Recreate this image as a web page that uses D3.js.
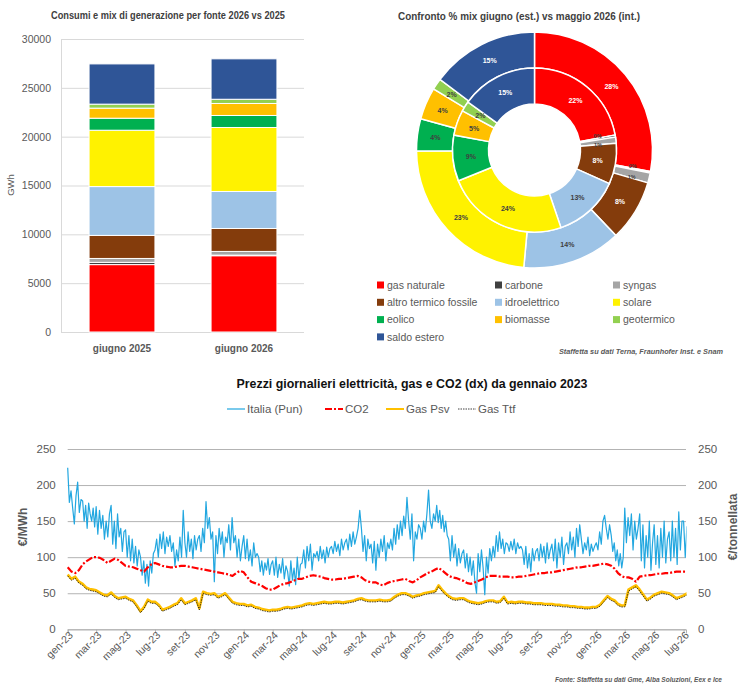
<!DOCTYPE html>
<html>
<head>
<meta charset="utf-8">
<script src="https://cdn.jsdelivr.net/npm/d3@7"></script>
<style>
body { margin: 0; background: #fff; }
svg { display: block; font-family: 'Liberation Sans', Arial, sans-serif; }
</style>
</head>
<body>
<div id="chart"></div>
<script>
// ---- data: generation mix ----
const sources = ['gas naturale', 'carbone', 'syngas', 'altro termico fossile', 'idroelettrico',
    'solare', 'eolico', 'biomasse', 'geotermico', 'saldo estero'];
const source_colors = ['#ff0000', '#404040', '#a5a5a5', '#843c0c', '#9dc3e6',
    '#fff200', '#00b050', '#ffc000', '#92d050', '#2f5597'];
const bar_months = ['giugno 2025', 'giugno 2026'];
const gwh_giugno_2025 = [6900, 230, 400, 2360, 5000, 5770, 1230, 1030, 410, 4120];
const gwh_giugno_2026 = [7810, 60, 380, 2350, 3790, 6550, 1230, 1230, 430, 4140];
const pct_maggio_2026 = [22, 0.4, 1.2, 8, 13, 24, 9, 5, 2, 15];
const gwh_ticks = [0, 5000, 10000, 15000, 20000, 25000, 30000];

// ---- data: daily prices (values per month, from gen-23) ----
const month_abbr = ['gen', 'feb', 'mar', 'apr', 'mag', 'giu', 'lug', 'ago', 'set', 'ott', 'nov', 'dic'];
const price_ticks = [0, 50, 100, 150, 200, 250];

const pun = [
    [224, 176, 192, 168, 146, 185, 204, 162, 180],
    [178, 150, 172, 140, 175, 160, 150, 168, 142],
    [170, 132, 165, 140, 158, 125, 150, 128, 160],
    [172, 118, 150, 112, 160, 128, 140, 108, 135],
    [138, 100, 130, 95, 125, 92, 115, 88, 110],
    [100, 75, 95, 64, 90, 60, 95, 78, 105],
    [110, 125, 100, 132, 112, 135, 105, 128, 115],
    [130, 108, 120, 88, 110, 95, 128, 100, 165],
    [120, 100, 135, 108, 125, 98, 130, 110, 125],
    [130, 108, 140, 120, 177, 140, 155, 125, 135],
    [66, 130, 105, 140, 118, 135, 100, 128, 120],
    [145, 110, 155, 120, 130, 100, 125, 95, 115],
    [130, 98, 125, 95, 110, 88, 120, 100, 105],
    [100, 80, 95, 75, 92, 82, 98, 76, 90],
    [95, 75, 100, 72, 90, 78, 98, 70, 88],
    [80, 60, 95, 68, 85, 62, 100, 70, 90],
    [92, 110, 85, 115, 95, 118, 82, 105, 100],
    [108, 95, 115, 98, 110, 92, 114, 100, 112],
    [115, 105, 122, 108, 118, 102, 125, 110, 120],
    [125, 110, 132, 115, 135, 118, 128, 140, 165],
    [140, 108, 130, 95, 125, 112, 118, 92, 122],
    [82, 118, 100, 125, 108, 130, 95, 120, 112],
    [125, 110, 140, 118, 145, 125, 150, 130, 157],
    [140, 183, 150, 125, 160, 95, 135, 125, 145],
    [140, 125, 150, 135, 160, 193, 150, 140, 160],
    [150, 172, 148, 165, 140, 158, 135, 150, 130],
    [125, 95, 130, 100, 118, 88, 112, 92, 105],
    [110, 85, 105, 80, 100, 75, 95, 65, 50],
    [105, 80, 110, 85, 48, 100, 78, 112, 95],
    [115, 100, 130, 108, 135, 112, 125, 105, 120],
    [118, 108, 122, 110, 125, 105, 120, 112, 115],
    [110, 90, 115, 85, 105, 80, 112, 95, 108],
    [112, 95, 118, 100, 115, 92, 120, 98, 110],
    [118, 95, 125, 85, 120, 100, 128, 90, 115],
    [120, 105, 135, 110, 128, 100, 140, 115, 145],
    [125, 105, 120, 110, 128, 102, 118, 108, 115],
    [120, 110, 135, 118, 150, 158, 140, 125, 145],
    [130, 108, 120, 95, 110, 88, 105, 85, 100],
    [168, 120, 155, 130, 160, 110, 150, 125, 140],
    [160, 95, 145, 85, 130, 100, 150, 82, 120],
    [145, 90, 130, 85, 140, 100, 150, 92, 125],
    [135, 95, 150, 100, 140, 90, 163, 110, 150],
    [150, 100, 143]
];

const co2 = [
    [86, 80, 78, 82], [90, 94, 97, 100], [100, 99, 96, 92], [95, 98, 96, 92],
    [88, 87, 86, 84], [82, 80, 86, 90], [92, 90, 88, 87], [86, 86, 87, 88],
    [88, 87, 86, 85], [84, 83, 82, 81], [80, 79, 78, 77], [76, 74, 78, 81],
    [79, 72, 66, 64], [62, 60, 57, 55], [55, 58, 61, 63], [64, 66, 68, 70],
    [70, 72, 74, 75], [74, 73, 71, 70], [69, 69, 70, 70], [71, 72, 73, 74],
    [72, 68, 66, 65], [65, 62, 61, 64], [66, 67, 68, 69], [70, 67, 65, 68],
    [72, 75, 78, 80], [83, 85, 82, 78], [74, 72, 71, 69], [67, 64, 63, 65],
    [67, 69, 72, 74], [74, 74, 73, 73], [73, 72, 72, 73], [73, 74, 75, 76],
    [77, 78, 78, 79], [79, 80, 81, 82], [83, 84, 85, 86], [86, 87, 88, 88],
    [89, 90, 91, 90], [88, 84, 78, 74], [72, 72, 70, 66], [73, 74, 75, 75],
    [76, 77, 77, 78], [78, 79, 80, 80], [80, 80]
];

const gas_psv = [
    [76, 70, 73, 66], [63, 58, 56, 55], [54, 51, 48, 47], [51, 46, 43, 44],
    [45, 42, 40, 33], [25, 31, 41, 38], [38, 34, 27, 29], [31, 34, 36, 43],
    [36, 38, 40, 43], [29, 52, 50, 49], [50, 45, 47, 50], [44, 38, 36, 35],
    [35, 33, 34, 31], [30, 28, 27, 26], [27, 27, 28, 30], [31, 30, 31, 32],
    [33, 35, 36, 35], [36, 37, 38, 37], [37, 38, 38, 37], [38, 39, 40, 42],
    [43, 41, 40, 40], [40, 41, 40, 40], [41, 45, 48, 50], [50, 48, 45, 47],
    [48, 50, 51, 52], [53, 61, 55, 50], [46, 43, 42, 43], [43, 40, 38, 37],
    [36, 37, 39, 40], [40, 38, 39, 45], [37, 38, 37, 38], [38, 37, 37, 36],
    [36, 36, 35, 35], [35, 34, 34, 33], [33, 32, 32, 31], [31, 30, 30, 31],
    [31, 34, 40, 46], [42, 40, 35, 33], [33, 55, 58, 61], [55, 48, 41, 44],
    [48, 50, 52, 51], [50, 47, 43, 45], [47, 50]
];

const gas_ttf = [
    [74, 68, 71, 64], [61, 56, 54, 53], [52, 49, 46, 45], [49, 44, 41, 42],
    [43, 40, 38, 31], [23, 29, 39, 36], [36, 32, 25, 27], [29, 32, 34, 41],
    [34, 36, 38, 41], [27, 50, 48, 47], [48, 43, 45, 48], [42, 36, 34, 33],
    [33, 31, 32, 29], [28, 26, 25, 24], [25, 25, 26, 28], [29, 28, 29, 30],
    [31, 33, 34, 33], [34, 35, 36, 35], [35, 36, 36, 35], [36, 37, 38, 40],
    [41, 39, 38, 38], [38, 39, 38, 38], [39, 43, 46, 48], [48, 46, 43, 45],
    [46, 48, 49, 50], [51, 59, 53, 48], [44, 41, 40, 41], [41, 38, 36, 35],
    [34, 35, 37, 38], [38, 36, 37, 43], [35, 36, 35, 36], [36, 35, 35, 34],
    [34, 34, 33, 33], [33, 32, 32, 31], [31, 30, 30, 29], [29, 28, 28, 29],
    [29, 32, 38, 44], [40, 38, 33, 31], [31, 53, 56, 59], [53, 46, 39, 42],
    [46, 48, 50, 49], [48, 45, 41, 43], [45, 48]
];

// ---------------------------------------------------------------
const chart_width = 746;
const chart_height = 688;
const title_color = '#404040';
const axis_color = '#595959';

const svg = d3.select('#chart')
    .append('svg')
    .attr('width', chart_width)
    .attr('height', chart_height);

// ---------------------------------------------------------------
// Stacked bars
svg.append('text')
    .attr('x', 168).attr('y', 19)
    .attr('text-anchor', 'middle')
    .attr('font-size', 10).attr('font-weight', 'bold')
    .attr('fill', title_color)
    .attr('textLength', 234).attr('lengthAdjust', 'spacingAndGlyphs')
    .text('Consumi e mix di generazione per fonte 2026 vs 2025');

const bar_rows = bar_months.map((m, i) => {
    const vals = i === 0 ? gwh_giugno_2025 : gwh_giugno_2026;
    const row = { month: m };
    sources.forEach((s, j) => row[s] = vals[j]);
    return row;
});

const bar_x = d3.scaleBand()
    .domain(bar_months)
    .range([61, 305])
    .paddingInner(0.46)
    .paddingOuter(0.23);

const bar_y = d3.scaleLinear()
    .domain([0, 30000])
    .range([332, 39]);

const bar_y_axis = svg.append('g')
    .attr('transform', 'translate(61,0)')
    .call(d3.axisLeft(bar_y).tickValues(gwh_ticks).tickSize(-243).tickPadding(10).tickFormat(d3.format('d')));
bar_y_axis.select('.domain').attr('stroke', '#d9d9d9').attr('d', 'M0.5,39V332');
bar_y_axis.selectAll('.tick line').attr('stroke', '#d9d9d9');
bar_y_axis.selectAll('.tick text').attr('fill', axis_color).attr('font-size', 10.5);

svg.append('text')
    .attr('transform', 'translate(14,185) rotate(-90)')
    .attr('text-anchor', 'middle')
    .attr('font-size', 9.5).attr('fill', axis_color)
    .text('GWh');

const stacked = d3.stack().keys(sources)(bar_rows);

svg.append('g').selectAll('g')
    .data(stacked)
    .enter()
    .append('g')
    .attr('fill', (d, i) => source_colors[i])
    .selectAll('rect')
    .data(d => d)
    .enter()
    .append('rect')
    .attr('x', d => bar_x(d.data.month))
    .attr('y', d => bar_y(d[1]))
    .attr('width', bar_x.bandwidth())
    .attr('height', d => bar_y(d[0]) - bar_y(d[1]))
    .attr('stroke', '#fff')
    .attr('stroke-width', 1);

svg.append('g').selectAll('text')
    .data(bar_months)
    .enter()
    .append('text')
    .attr('x', d => bar_x(d) + bar_x.bandwidth() / 2)
    .attr('y', 352)
    .attr('text-anchor', 'middle')
    .attr('font-size', 10).attr('font-weight', 'bold')
    .attr('fill', axis_color)
    .text(d => d);

// ---------------------------------------------------------------
// Donut: giugno (outer) vs maggio 2026 (inner)
svg.append('text')
    .attr('x', 519).attr('y', 20)
    .attr('text-anchor', 'middle')
    .attr('font-size', 10).attr('font-weight', 'bold')
    .attr('fill', title_color)
    .attr('textLength', 242).attr('lengthAdjust', 'spacingAndGlyphs')
    .text('Confronto % mix giugno (est.) vs maggio 2026 (int.)');

const pie = d3.pie().sort(null);
const donut = svg.append('g').attr('transform', 'translate(534.5,150)');
const white_label = [true, false, false, true, false, false, false, false, false, true];
const label_nudge = [0, -3, 3, 0, 0, 0, 0, 0, 0, 0];

function ring(values, r0, r1) {
    const total = d3.sum(values);
    const arc = d3.arc().innerRadius(r0).outerRadius(r1);
    const g = donut.append('g');
    const arcs = pie(values);
    g.selectAll('path')
        .data(arcs)
        .enter()
        .append('path')
        .attr('d', arc)
        .attr('fill', (d, i) => source_colors[i])
        .attr('stroke', '#fff')
        .attr('stroke-width', 1.5);
    g.selectAll('text')
        .data(arcs)
        .enter()
        .append('text')
        .attr('transform', (d, i) => {
            const c = arc.centroid(d);
            return 'translate(' + c[0] + ',' + (c[1] + label_nudge[i]) + ')';
        })
        .attr('dy', '0.35em')
        .attr('text-anchor', 'middle')
        .attr('font-size', (d, i) => label_nudge[i] ? 5.5 : 7).attr('font-weight', 'bold')
        .attr('fill', (d, i) => white_label[i] ? '#fff' : '#404040')
        .text(d => d3.format('.0%')(d.value / total));
}
ring(gwh_giugno_2026, 82, 118);
ring(pct_maggio_2026, 46, 82);

// legend
const legend = svg.append('g').selectAll('g')
    .data(sources)
    .enter()
    .append('g')
    .attr('transform', (d, i) => 'translate(' + [377, 495, 613][i % 3] + ',' + (285 + Math.floor(i / 3) * 17.3) + ')');
legend.append('rect')
    .attr('x', 0).attr('y', -3.5)
    .attr('width', 7).attr('height', 7)
    .attr('fill', (d, i) => source_colors[i]);
legend.append('text')
    .attr('x', 10).attr('dy', '0.35em')
    .attr('font-size', 10.5).attr('fill', axis_color)
    .text(d => d);

svg.append('text')
    .attr('x', 723).attr('y', 354)
    .attr('text-anchor', 'end')
    .attr('font-size', 7.2).attr('font-weight', 'bold').attr('font-style', 'italic')
    .attr('fill', axis_color)
    .attr('textLength', 164).attr('lengthAdjust', 'spacingAndGlyphs')
    .text('Staffetta su dati Terna, Fraunhofer Inst. e Snam');

// ---------------------------------------------------------------
// Daily prices
svg.append('text')
    .attr('x', 412).attr('y', 388)
    .attr('text-anchor', 'middle')
    .attr('font-size', 13).attr('font-weight', 'bold')
    .attr('fill', '#111')
    .attr('textLength', 351).attr('lengthAdjust', 'spacingAndGlyphs')
    .text('Prezzi giornalieri elettricità, gas e CO2 (dx) da gennaio 2023');

const start_day = new Date(2023, 0, 1);
const end_day = new Date(2026, 6, 6);

function to_points(months) {
    const pts = [];
    months.forEach((vals, m) => {
        const ms = d3.timeMonth.offset(start_day, m);
        const span = d3.timeMonth.offset(ms, 1) - ms;
        const n = m === months.length - 1 ? months[0].length : vals.length;
        vals.forEach((v, j) => pts.push({ date: new Date(+ms + j * span / n), v: v }));
    });
    return pts;
}

const time_x = d3.scaleTime()
    .domain([start_day, end_day])
    .range([67.7, 686]);
const price_y = d3.scaleLinear()
    .domain([0, 250])
    .range([629.3, 449]);

const left_axis = svg.append('g')
    .attr('transform', 'translate(67.7,0)')
    .call(d3.axisLeft(price_y).tickValues(price_ticks).tickSize(-618.3).tickPadding(12));
left_axis.select('.domain').remove();
left_axis.selectAll('.tick line').attr('stroke', '#b3b3b3');
left_axis.selectAll('.tick text').attr('fill', axis_color).attr('font-size', 11.5);

const right_axis = svg.append('g')
    .attr('transform', 'translate(686,0)')
    .call(d3.axisRight(price_y).tickValues(price_ticks).tickSize(0).tickPadding(12));
right_axis.select('.domain').remove();
right_axis.selectAll('.tick text').attr('fill', axis_color).attr('font-size', 11.5);

const month_ticks = d3.timeMonth.every(2).range(start_day, d3.timeMonth.offset(end_day, 1));
const x_axis = svg.append('g')
    .attr('transform', 'translate(0,629.3)')
    .call(d3.axisBottom(time_x).tickValues(month_ticks).tickSize(4)
        .tickFormat(d => month_abbr[d.getMonth()] + '-' + String(d.getFullYear()).slice(2)));
x_axis.select('.domain').attr('stroke', '#b3b3b3');
x_axis.selectAll('.tick line').attr('stroke', '#b3b3b3');
x_axis.selectAll('.tick text')
    .attr('fill', axis_color).attr('font-size', 10.5)
    .attr('text-anchor', 'end')
    .attr('transform', 'translate(-2,-1) rotate(-45)')
    .attr('dy', '0.35em').attr('y', 7).attr('x', 0);

svg.append('text')
    .attr('transform', 'translate(27,527) rotate(-90)')
    .attr('text-anchor', 'middle')
    .attr('font-size', 12).attr('font-weight', 'bold').attr('fill', axis_color)
    .text('€/MWh');
svg.append('text')
    .attr('transform', 'translate(737,527) rotate(-90)')
    .attr('text-anchor', 'middle')
    .attr('font-size', 12).attr('font-weight', 'bold').attr('fill', axis_color)
    .text('€/tonnellata');

svg.append('clipPath').attr('id', 'plot-clip')
    .append('rect').attr('x', 60).attr('y', 440).attr('width', 626.5).attr('height', 200);

const line = d3.line()
    .x(d => time_x(d.date))
    .y(d => price_y(d.v));

const series = [
    { name: 'Italia (Pun)', data: pun, color: '#22a7e0', width: 1.2, dash: null },
    { name: 'CO2', data: co2, color: '#ff0000', width: 2.2, dash: '7,2,2,2' },
    { name: 'Gas Psv', data: gas_psv, color: '#ffc000', width: 2.6, dash: null },
    { name: 'Gas Ttf', data: gas_ttf, color: '#111', width: 0.8, dash: '1.5,1' }
];

const plot = svg.append('g').attr('clip-path', 'url(#plot-clip)');
series.forEach(s => {
    plot.append('path')
        .datum(to_points(s.data))
        .attr('d', line)
        .attr('fill', 'none')
        .attr('stroke', s.color)
        .attr('stroke-width', s.width)
        .attr('stroke-dasharray', s.dash)
        .attr('stroke-linejoin', 'round');
});

// legend
const legend_x = [227, 325, 386, 458];
const line_legend = svg.append('g').selectAll('g')
    .data(series)
    .enter()
    .append('g')
    .attr('transform', (d, i) => 'translate(' + legend_x[i] + ',409)');
line_legend.append('line')
    .attr('x1', 0).attr('x2', 18)
    .attr('stroke', d => d.color)
    .attr('stroke-width', d => Math.min(d.width, 2))
    .attr('stroke-dasharray', d => d.dash);
line_legend.append('text')
    .attr('x', 20).attr('dy', '0.35em')
    .attr('font-size', 11.5).attr('fill', axis_color)
    .text(d => d.name);

svg.append('text')
    .attr('x', 722).attr('y', 682)
    .attr('text-anchor', 'end')
    .attr('font-size', 7.2).attr('font-weight', 'bold').attr('font-style', 'italic')
    .attr('fill', axis_color)
    .attr('textLength', 167).attr('lengthAdjust', 'spacingAndGlyphs')
    .text('Fonte: Staffetta su dati Gme, Alba Soluzioni, Eex e Ice');
</script>
</body>
</html>
